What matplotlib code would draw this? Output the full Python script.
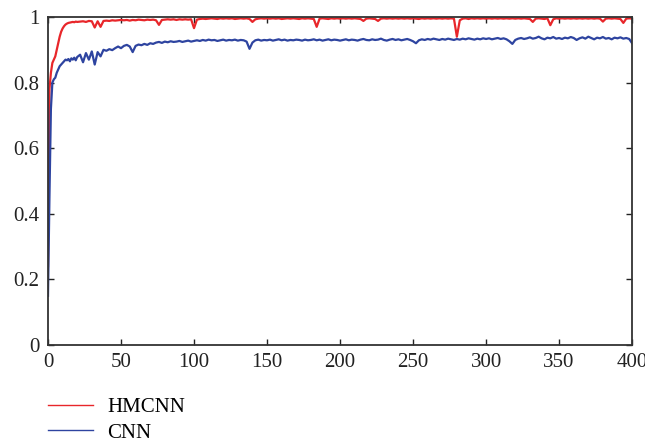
import numpy as np
import matplotlib
matplotlib.use('Agg')
import matplotlib.pyplot as plt

# epochs: every epoch up to 20, then every second epoch
epochs = np.concatenate([np.arange(0, 21), np.arange(22, 401, 2)])

hmcnn = [
    0.24, 0.78, 0.83, 0.86, 0.87, 0.88, 0.90, 0.92, 0.94, 0.955, 0.965,
    0.972, 0.977, 0.98, 0.982, 0.983, 0.984, 0.985, 0.984, 0.986, 0.985,
    # 22..100
    0.986, 0.987, 0.985, 0.988, 0.987, 0.968, 0.987, 0.970, 0.988, 0.989,
    0.988, 0.990, 0.989, 0.990, 0.991, 0.990, 0.991, 0.989, 0.991, 0.990,
    0.992, 0.991, 0.990, 0.992, 0.991, 0.992, 0.990, 0.976, 0.991, 0.992,
    0.993, 0.992, 0.993, 0.991, 0.993, 0.992, 0.993, 0.992, 0.993, 0.966,
    # 102..200
    0.992, 0.994, 0.995, 0.994, 0.995, 0.996, 0.995, 0.994, 0.996, 0.995,
    0.996, 0.995, 0.996, 0.994, 0.995, 0.996, 0.995, 0.996, 0.994, 0.985,
    0.993, 0.995, 0.996, 0.995, 0.996, 0.995, 0.996, 0.995, 0.996, 0.994,
    0.995, 0.996, 0.995, 0.996, 0.995, 0.994, 0.996, 0.995, 0.996, 0.995,
    0.994, 0.970, 0.995, 0.996, 0.995, 0.994, 0.996, 0.995, 0.996, 0.995,
    # 202..300
    0.996, 0.995, 0.996, 0.995, 0.996, 0.995, 0.994, 0.988, 0.995, 0.996,
    0.995, 0.994, 0.988, 0.995, 0.996, 0.995, 0.996, 0.995, 0.996, 0.995,
    0.996, 0.995, 0.996, 0.995, 0.996, 0.995, 0.994, 0.996, 0.995, 0.996,
    0.995, 0.996, 0.995, 0.996, 0.995, 0.996, 0.995, 0.996, 0.995, 0.940,
    0.990, 0.995, 0.996, 0.994, 0.996, 0.995, 0.996, 0.995, 0.996, 0.995,
    # 302..400
    0.996, 0.995, 0.996, 0.995, 0.996, 0.995, 0.996, 0.995, 0.996, 0.995,
    0.996, 0.995, 0.996, 0.995, 0.994, 0.985, 0.995, 0.996, 0.995, 0.994,
    0.996, 0.975, 0.993, 0.996, 0.995, 0.996, 0.995, 0.996, 0.995, 0.996,
    0.995, 0.996, 0.995, 0.996, 0.995, 0.996, 0.995, 0.996, 0.995, 0.986,
    0.995, 0.996, 0.995, 0.996, 0.995, 0.994, 0.982, 0.995, 0.996, 0.995,
]

cnn = [
    0.15, 0.45, 0.72, 0.80, 0.81, 0.815, 0.83, 0.84, 0.85, 0.855, 0.86,
    0.865, 0.87, 0.868, 0.872, 0.865, 0.874, 0.87, 0.876, 0.868, 0.878,
    # 22..100
    0.885, 0.862, 0.890, 0.870, 0.895, 0.855, 0.893, 0.880, 0.900, 0.897,
    0.902, 0.899, 0.905, 0.910, 0.905, 0.912, 0.915, 0.910, 0.893, 0.912,
    0.916, 0.914, 0.918, 0.915, 0.920, 0.918, 0.922, 0.924, 0.921, 0.925,
    0.923, 0.926, 0.924, 0.925, 0.927, 0.924, 0.926, 0.928, 0.925, 0.927,
    # 102..200
    0.929, 0.927, 0.930, 0.928, 0.931, 0.929, 0.930, 0.927, 0.929, 0.931,
    0.928, 0.930, 0.929, 0.931, 0.928, 0.930, 0.929, 0.925, 0.903, 0.922,
    0.929, 0.931, 0.928, 0.930, 0.929, 0.931, 0.928, 0.930, 0.932, 0.929,
    0.931, 0.928, 0.930, 0.929, 0.931, 0.930, 0.928, 0.931, 0.929, 0.930,
    0.932, 0.929, 0.931, 0.928, 0.930, 0.932, 0.929, 0.931, 0.930, 0.928,
    # 202..300
    0.930, 0.932, 0.929, 0.931, 0.930, 0.928, 0.931, 0.933, 0.930, 0.929,
    0.932, 0.930, 0.931, 0.934, 0.930, 0.928, 0.931, 0.933, 0.930, 0.932,
    0.929, 0.931, 0.933, 0.930, 0.926, 0.920, 0.929, 0.932, 0.930, 0.933,
    0.931, 0.934, 0.932, 0.930, 0.933, 0.931, 0.934, 0.932, 0.930, 0.933,
    0.931, 0.934, 0.932, 0.935, 0.933, 0.931, 0.934, 0.932, 0.935, 0.933,
    # 302..400
    0.935, 0.932, 0.934, 0.936, 0.933, 0.935, 0.932, 0.926, 0.918, 0.930,
    0.934, 0.936, 0.933, 0.935, 0.938, 0.934, 0.936, 0.940, 0.935, 0.932,
    0.937, 0.935, 0.939, 0.934, 0.936, 0.933, 0.937, 0.935, 0.939, 0.936,
    0.930, 0.935, 0.938, 0.934, 0.940, 0.936, 0.932, 0.937, 0.935, 0.939,
    0.934, 0.936, 0.932, 0.937, 0.935, 0.938, 0.934, 0.936, 0.933, 0.920,
]

yticks = [0, 0.2, 0.4, 0.6, 0.8, 1]
ytick_labels = ['0', '0.2', '0.4', '0.6', '0.8', '1']
xticks = [0, 50, 100, 150, 200, 250, 300, 350, 400]

plt.rcParams['font.family'] = ['Liberation Serif', 'DejaVu Serif']
plt.rcParams['font.size'] = 15

fig = plt.figure(figsize=(6.45, 4.44), dpi=100)
ax = fig.add_axes([0.0744, 0.223, 0.9056, 0.7387])

ax.plot(epochs, hmcnn, color='#e8262a', lw=1.6, label='HMCNN')
ax.plot(epochs, cnn, color='#2e44a0', lw=1.6, label='CNN')

ax.set_xlim(0, 400)
ax.set_ylim(0, 1)
ax.set_xticks(xticks)
ax.set_yticks(yticks)
ax.set_yticklabels(ytick_labels)
ax.tick_params(direction='in', top=True, right=True, length=4, width=1,
               colors='#222222', labelcolor='#222222', pad=6)
for s in ax.spines.values():
    s.set_color('#333333')
    s.set_linewidth(1.3)

leg = fig.legend(loc='upper left', bbox_to_anchor=(0.062, 0.124),
                 frameon=False, handlelength=2.15, handletextpad=0.67,
                 labelspacing=0.3, borderaxespad=0, fontsize=15)
for line in leg.get_lines():
    line.set_linewidth(1.0)

fig.savefig('out.png', dpi=100)
